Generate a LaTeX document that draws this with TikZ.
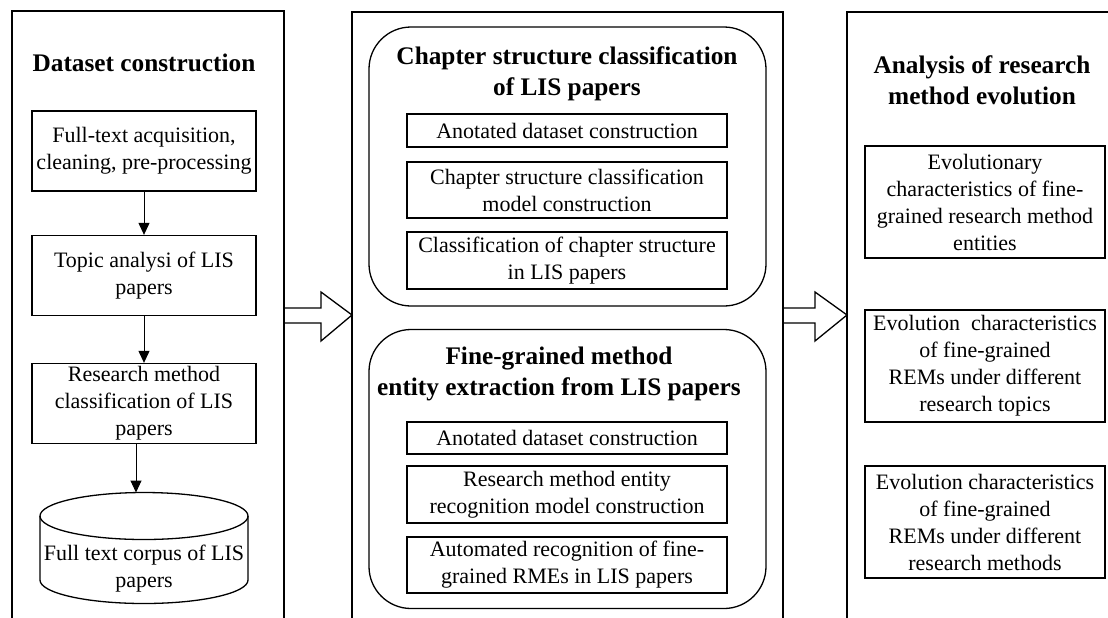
\documentclass[tikz,border=0pt]{standalone}
\usepackage{fontspec}
\setmainfont{Liberation Serif}
\usetikzlibrary{arrows.meta,positioning}

\begin{document}
\begin{tikzpicture}[x=0.5pt, y=-0.5pt, line width=0.65pt, >={Triangle[length=6pt,width=5.5pt]},
  box/.style={draw, rectangle, align=center, inner sep=1pt, font=\fontsize{11}{13.5}\selectfont},
  lbox/.style={box, minimum width=112pt, minimum height=40pt},
  subbox/.style={box, minimum width=160pt},
  rbox/.style={box, minimum width=120pt, minimum height=56pt},
  title/.style={align=center, font=\fontsize{12.65}{15.5}\selectfont\bfseries},
  group/.style={draw, rectangle, rounded corners=21pt, minimum width=198.5pt, minimum height=139.5pt}]

  \useasboundingbox (0,0) rectangle (1108,617);
  \clip (0,0) rectangle (1108,617);

  % Panels, open at the bottom
  \draw (12,640) -- (12,11) -- (284,11) -- (284,640);
  \draw (352,640) -- (352,12) -- (783,12) -- (783,640);
  \draw (847,640) -- (847,12) -- (1120,12);

  % Left panel
  \node[title] (dtitle) at (144,63) {Dataset construction};
  \node[lbox] (acq) at (144,151) {Full-text acquisition,\\cleaning, pre-processing};
  \node[lbox, node distance=62.25pt, below of=acq] (topic) {Topic analysi of LIS\\papers};
  \node[lbox, node distance=64pt, below of=topic] (rmc) {Research method\\classification of LIS\\papers};

  % corpus drum
  \node[box, draw=none, inner sep=0pt] (corpus) at (144,569) {Full text corpus of LIS\\papers};
  \coordinate (corpustop) at (144,492.5);
  \draw (144,516) ellipse [x radius=104, y radius=23.5];
  \draw (40,516) -- (40,580) arc[start angle=180, end angle=0, x radius=104, y radius=23.5] -- (248,516);

  \draw[->, line width=0.5pt] (acq) -- (topic);
  \draw[->, line width=0.5pt] (topic) -- (rmc);
  \draw[->, line width=0.5pt] ([xshift=-4pt]rmc.south) -- ([xshift=-4pt]corpustop);

  % Middle panel
  \node[group] (csc) at (567.5,166.5) {};
  \node[title] (csctitle) at (567,74) {Chapter structure classification\\of LIS papers};
  \node[subbox, minimum height=16.5pt] (csc1) at (567,130.5) {Anotated dataset construction};
  \node[subbox, minimum height=28pt] (csc2) at (567,190) {Chapter structure classification\\model construction};
  \node[subbox, minimum height=28.5pt] (csc3) at (567,260.5) {Classification of chapter structure\\in LIS papers};

  \node[group] (mee) at (567.5,469) {};
  \node[title] (meetitle) at (559,373.5) {Fine-grained method\\entity extraction from LIS papers};
  \node[subbox, minimum height=16pt] (mee1) at (567,438) {Anotated dataset construction};
  \node[subbox, minimum height=28.5pt] (mee2) at (567,494.5) {Research method entity\\recognition model construction};
  \node[subbox, minimum height=28pt] (mee3) at (567,565) {Automated recognition of fine-\\grained RMEs in LIS papers};

  % Right panel
  \node[title] (atitle) at (982,80) {Analysis of research\\method evolution};
  \node[rbox] (evo1) at (985,202) {Evolutionary\\characteristics of fine-\\grained research method\\entities};
  \node[rbox] (evo2) at (985,366) {Evolution~ characteristics\\of fine-grained\\REMs under different\\research topics};
  \node[rbox] (evo3) at (985,522) {Evolution characteristics\\of fine-grained\\REMs under different\\research methods};

  % Block arrows between panels
  \draw (284,308) -- (321,308) -- (321,292) -- (352,315) -- (321,341) -- (321,323) -- (284,323);
  \draw (783,308) -- (815,308) -- (815,292) -- (847,315) -- (815,341) -- (815,323) -- (783,323);

\end{tikzpicture}
\end{document}
